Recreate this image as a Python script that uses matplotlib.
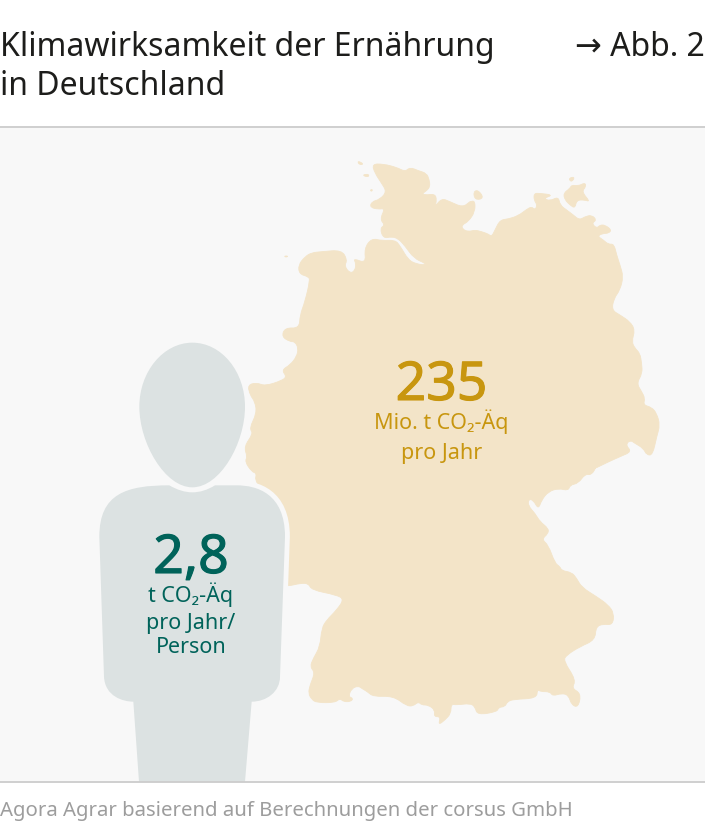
import matplotlib
matplotlib.use("Agg")
import matplotlib.pyplot as plt
import matplotlib.patheffects as pe
from matplotlib.patches import PathPatch, Rectangle
from matplotlib.path import Path

plt.rcParams['font.family'] = ['Noto Sans', 'DejaVu Sans']

TITLE = ["Klimawirksamkeit der Ernährung", "in Deutschland"]
FIG_REF = "→ Abb. 2"
SOURCE = "Agora Agrar basierend auf Berechnungen der corsus GmbH"
DE_VALUE = "235"
DE_UNIT = ["Mio. t CO₂-Äq", "pro Jahr"]
PERSON_VALUE = "2,8"
PERSON_UNIT = ["t CO₂-Äq", "pro Jahr/", "Person"]

C_MAP, C_PERSON = "#f3e4c8", "#dce2e2"
C_GOLD, C_TEAL = "#c8960f", "#00635a"
C_BG, C_RULE, C_TEXT, C_SRC = "#f8f8f8", "#cccccc", "#1d1d1b", "#9d9d9d"

# outline (crop coordinates, scale 3)
north = [(396,42),(430,42),(470,52),(495,65),(510,52),(535,62),(560,70),(568,90),(570,110),(560,122),(545,132),(560,135),(585,132),(590,150),(585,170),(605,145),(630,155),(668,172),(690,155)]
baltic = [(30,155),(45,152),(45,185),(25,215),(5,225),(8,238),(25,245),(45,240),(65,245),(85,252),(95,260),(105,240),(120,210),(145,207),(175,197),(200,178),(215,170),(225,180),(232,165),(222,150),(222,130),(240,130),(280,135),(250,145),(270,153),(295,140),(300,165),(320,180),(340,195),(358,210),(375,200),(395,195),(410,210),(395,220),(410,235),(420,225),(435,225),(455,240),(445,250),(430,250),(412,258),(430,270),(445,283),(462,282),(470,315),(480,345),(490,380),(480,420),(462,445),(455,480),(480,495),(510,515),(525,540),(515,575),(525,595),(540,610),(545,640),(547,670),(530,700),(545,725),(555,745),(550,765),(575,772),(590,790),(600,825),(590,860),(578,915),(560,915),(550,895),(525,880),(510,870),(497,885),(515,905),(480,920),(440,938),(400,958)]
south = [(950,48),(935,75),(915,72),(895,100),(870,105),(865,122),(835,115),(805,125),(785,150),(775,178),(760,150),(745,148),(745,168),(765,190),(780,215),(805,235),(805,250),(785,268),(805,285),(825,340),(840,350),(845,362),(875,367),(890,385),(905,412),(950,440),(985,465),(1002,490),(998,525),(970,522),(948,530),(945,570),(900,590),(860,615),(850,632),(888,690),(875,715),(903,730),(895,772),(875,765),(865,735),(845,730),(818,738),(810,725),(782,725),(772,718),(770,745),(700,748),(682,755),(675,770),(655,772),(652,785),(592,795),(585,770),(570,760),(530,765),(513,762),(513,790),(495,810),(475,825),(482,800),(462,800),(465,780),(445,765),(425,765),(415,755),(400,768),(380,768),(340,738),(280,740),(262,725),(245,715),(235,708),(215,715),(205,740),(220,745),(212,755),(190,755),(180,745),(165,758),(110,758),(95,748),(85,730),(90,705),(105,668),(90,650),(100,625),(120,590),(125,535),(140,510),(170,480),(192,448),(170,435),(95,420),(85,400),(60,400),(27,408),(-30,410),(-30,200)]
sw_border = [(510,470),(495,450),(500,430),(485,425),(465,395),(472,380),(462,350),(490,310),(478,295),(500,250),(495,215),(480,195),(473,165)]
west = [(50,698),(75,708),(125,692),(140,680),(125,660),(150,645),(170,620),(175,595),(165,575),(150,575),(125,560),(135,533),(178,535),(180,495),(195,455),(210,390),(205,380),(178,372),(175,345),(195,320),(215,308),(245,305),(305,300),(322,330),(313,348),(330,370),(345,362),(348,340),(340,325),(378,340),(373,295),(395,265),(425,272),(465,270),(480,287),(505,330),(530,342),(556,345),(556,340),(522,325),(495,288),(475,266),(455,260),(430,265),(420,235),(435,225),(420,208),(435,175),(415,178),(390,172),(395,155),(420,148),(440,125),(425,100),(405,70)]
islands_a = [[(352,32),(372,42),(358,45)],[(365,75),(387,72),(385,82)],[(390,120),(398,118),(395,125)],[(132,318),(145,318),(138,322)]]
islands_b = [[(40,125),(55,120),(72,145),(45,150)],[(325,85),(345,80),(335,97)],[(310,130),(330,115),(335,105),(355,108),(375,98),(378,110),(365,125),(390,155),(375,150),(350,150),(345,175),(330,165),(315,150)]]
head_pts = [(307,38),(395,38),(465,125),(465,230),(465,340),(390,472),(307,472),(225,472),(148,340),(148,230),(148,125),(220,38),(307,38),(307,38)]
body_pts = [(238,466),(262,480),(285,487),(307,487),(330,487),(352,480),(375,466),(440,466),(500,466),(585,490),(585,620),(570,1040),(570,1085),(530,1115),(485,1115),(465,1355),(147,1355),(130,1115),(100,1115),(45,1100),(42,1040),(28,620),(28,490),(110,466),(238,466),(238,466)]

def crop(pts, ox, oy):
    return [(ox + x / 3, oy + y / 3) for x, y in pts]

def rounded(pts):
    """Closed path whose corners are softened with quadratic curves."""
    n = len(pts)
    mid = [((pts[i][0] + pts[(i + 1) % n][0]) / 2, (pts[i][1] + pts[(i + 1) % n][1]) / 2) for i in range(n)]
    v, c = [mid[-1]], [Path.MOVETO]
    for i in range(n):
        v += [pts[i], mid[i]]
        c += [Path.CURVE3, Path.CURVE3]
    return Path(v, c)

fig = plt.figure(figsize=(7.05, 8.34), dpi=100, facecolor="white")
ax = fig.add_axes([0, 0, 1, 1])
ax.set_xlim(0, 705); ax.set_ylim(834, 0); ax.axis("off")

panel = Rectangle((0, 127), 705, 655, fc=C_BG, ec="none", zorder=0)
ax.add_patch(panel)
ax.plot([0, 705], [127, 127], color=C_RULE, lw=1.3, zorder=5)
ax.plot([0, 705], [782, 782], color=C_RULE, lw=1.3, zorder=5)

outline = crop(north, 240, 150) + crop(baltic, 460, 150) + crop(south, 280, 450) + crop(sw_border, 90, 330) + crop(west, 240, 150)
shapes = [outline] + [crop(i, 240, 150) for i in islands_a] + [crop(i, 460, 150) for i in islands_b]
for s in shapes:
    ax.add_patch(PathPatch(rounded(s), fc=C_MAP, ec=C_MAP, lw=0.6, zorder=1))

M, L, C, Z = Path.MOVETO, Path.LINETO, Path.CURVE4, Path.CLOSEPOLY
head_c = [M] + [C] * 12 + [Z]
body_c = [M, C, C, C, C, C, C, L, C, C, C, L, C, C, C, L, L, L, C, C, C, L, C, C, C, Z]
for v, c in ((body_pts, body_c), (head_pts, head_c)):
    p = Path(crop(v, 90, 330), c)
    halo = ax.add_patch(PathPatch(p, fc=C_BG, ec=C_BG, lw=7, zorder=2))
    halo.set_clip_path(panel)
for v, c in ((body_pts, body_c), (head_pts, head_c)):
    p = Path(crop(v, 90, 330), c)
    ax.add_patch(PathPatch(p, fc=C_PERSON, ec="none", zorder=3))

ax.text(0, 55.5, TITLE[0], fontsize=23.0, color=C_TEXT, va="baseline", zorder=6)
ax.text(0, 95, TITLE[1], fontsize=23.0, color=C_TEXT, va="baseline", zorder=6)
ax.text(705, 55.5, FIG_REF, fontsize=23.0, color=C_TEXT, ha="right", va="baseline", zorder=6)
ax.text(0, 816, SOURCE, fontsize=14.65, color=C_SRC, va="baseline", zorder=6)

def big(x, y, s, col):
    ax.text(x, y, s, fontsize=38.5, color=col, ha="center", va="baseline", zorder=6,
            path_effects=[pe.withStroke(linewidth=0.8, foreground=col)])

big(441.5, 400, DE_VALUE, C_GOLD)
for s, y in zip(DE_UNIT, (429, 459)):
    ax.text(441.5, y, s, fontsize=15.5, color=C_GOLD, ha="center", va="baseline", zorder=6)
big(191, 573, PERSON_VALUE, C_TEAL)
for s, y in zip(PERSON_UNIT, (602, 629, 653)):
    ax.text(191, y, s, fontsize=15.5, color=C_TEAL, ha="center", va="baseline", zorder=6)

fig.savefig("out.png", dpi=100)
